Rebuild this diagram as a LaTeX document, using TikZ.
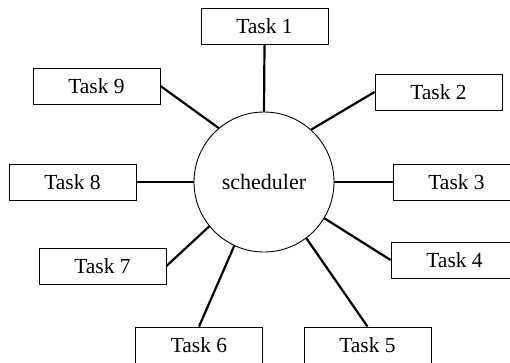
\documentclass[tikz,border=0pt]{standalone}
\usepackage{fontspec}
\setmainfont{Liberation Serif}
\begin{document}
\begin{tikzpicture}[x=1pt,y=-1pt,
  taskbox/.style={draw,line width=0.9pt,minimum width=127pt,minimum height=36pt,inner sep=0pt,font=\fontsize{21.5}{24}\selectfont},
  hub/.style={draw,circle,line width=0.9pt,minimum size=140pt,inner sep=0pt,font=\fontsize{22}{24}\selectfont},
  link/.style={line width=2.2pt}]
\useasboundingbox (0,0) rectangle (510,362);
\clip (0,0) rectangle (510,362);
\node[hub] (sc) at (264,182) {scheduler};
\node[taskbox] (t1) at (264.5,26) {Task 1};
\node[taskbox] (t2) at (438.5,92) {Task 2};
\node[taskbox] (t3) at (456.5,182) {Task 3};
\node[taskbox] (t4) at (454.5,260) {Task 4};
\node[taskbox] (t5) at (367.5,345) {Task 5};
\node[taskbox] (t6) at (199,345) {Task 6};
\node[taskbox] (t7) at (102.5,266) {Task 7};
\node[taskbox] (t8) at (72.5,182) {Task 8};
\node[taskbox] (t9) at (96.5,86) {Task 9};
\draw[link] (t1.south) -- (sc.90);
\draw[link] (t2.west) -- (sc.48.5);
\draw[link] (t3.west) -- (sc.0);
\draw[link] (t4.west) -- (sc.329);
\draw[link] (t5.north) -- (sc.307.5);
\draw[link] (t6.north) -- (sc.245);
\draw[link] (t7.east) -- (sc.219);
\draw[link] (t8.east) -- (sc.180);
\draw[link] (t9.east) -- (sc.130);
\end{tikzpicture}
\end{document}
